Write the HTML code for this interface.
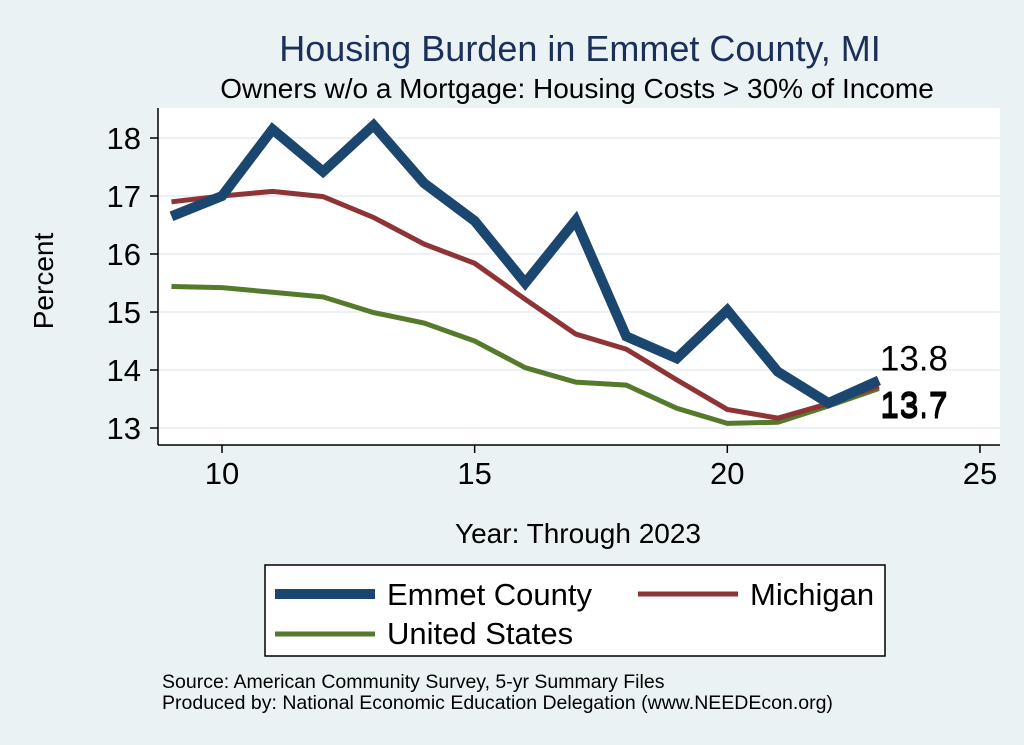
<!DOCTYPE html>
<html><head><meta charset="utf-8"><style>
body{margin:0;background:#eaf2f3;}
svg{display:block;font-family:"Liberation Sans",sans-serif;}
</style></head><body>
<svg id="c" width="1024" height="745">
<rect x="0" y="0" width="1024" height="745" fill="#eaf2f3"/>
<rect x="158" y="108" width="842" height="337" fill="#fff"/>
<text x="580" y="61" text-anchor="middle" font-size="36" fill="#1a2f5a">Housing Burden in Emmet County, MI</text>
<text x="577" y="98" text-anchor="middle" font-size="28" fill="#000">Owners w/o a Mortgage: Housing Costs &gt; 30% of Income</text>
<text x="53" y="281" text-anchor="middle" font-size="28" transform="rotate(-90 53 281)">Percent</text>
<text x="578" y="543" text-anchor="middle" font-size="28">Year: Through 2023</text>
<g id="grid"></g><g id="axes"></g><g id="series"></g>
<g>
<rect x="265" y="565" width="620" height="91" fill="#fff" stroke="#000" stroke-width="1.5"/>
<line x1="275" y1="594" x2="375" y2="594" stroke="#1a4670" stroke-width="10"/>
<text x="387" y="605" font-size="31">Emmet County</text>
<line x1="638" y1="594" x2="738" y2="594" stroke="#8e3436" stroke-width="5"/>
<text x="750" y="605" font-size="31">Michigan</text>
<line x1="275" y1="634" x2="375" y2="634" stroke="#557a2c" stroke-width="5"/>
<text x="387" y="644" font-size="31">United States</text>
</g>
<text x="162" y="688" font-size="19.5">Source: American Community Survey, 5-yr Summary Files</text>
<text x="162" y="709" font-size="19.5">Produced by: National Economic Education Delegation (www.NEEDEcon.org)</text>
</svg>
<script>
const years=[9,10,11,12,13,14,15,16,17,18,19,20,21,22,23];
const emmet=[16.65,17.0,18.15,17.42,18.22,17.22,16.57,15.5,16.58,14.58,14.2,15.03,13.97,13.43,13.82];
const michigan=[16.9,17.0,17.08,16.99,16.63,16.17,15.84,15.22,14.62,14.36,13.83,13.32,13.17,13.42,13.72];
const us=[15.44,15.42,15.34,15.26,14.99,14.81,14.5,14.04,13.79,13.74,13.34,13.08,13.1,13.38,13.68];
const xTicks=[10,15,20,25];
const yTicks=[13,14,15,16,17,18];
const endLabels=["13.8","13.7","13.7"];
const NS="http://www.w3.org/2000/svg";
const X=v=>222+(v-10)*50.53;
const Y=v=>428-(v-13)*58;
function mk(t,a,p){const e=document.createElementNS(NS,t);for(const k in a)e.setAttribute(k,a[k]);p.appendChild(e);return e;}
const grid=document.getElementById('grid'),axes=document.getElementById('axes'),ser=document.getElementById('series');
yTicks.forEach(v=>{
 const g=mk('line',{x1:158,x2:1000,y1:Y(v),y2:Y(v),stroke:'#e6eeef','stroke-width':1.5},grid);
 
 
 const t=mk('line',{x1:150,x2:158,y1:Y(v),y2:Y(v),stroke:'#000','stroke-width':1.5},axes);
 
 
 const l=mk('text',{x:141,y:Y(v)+11,'text-anchor':'end','font-size':31},axes);
 l.textContent=v;
 
 
});
xTicks.forEach(v=>{
 const t=mk('line',{x1:X(v),x2:X(v),y1:445,y2:453,stroke:'#000','stroke-width':1.5},axes);
 
 
 const l=mk('text',{x:X(v),y:484,'text-anchor':'middle','font-size':31},axes);
 l.textContent=v;
 
 
});
const ya=mk('line',{x1:158,x2:158,y1:108,y2:445,stroke:'#000','stroke-width':1.5},axes);


const xa=mk('line',{x1:158,x2:1000,y1:445,y2:445,stroke:'#000','stroke-width':1.5},axes);


function line(d,c,w,name){
 const p=mk('polyline',{points:years.map((y,i)=>X(y)+','+Y(d[i])).join(' '),fill:'none',stroke:c,'stroke-width':w,'stroke-linejoin':'miter'},ser);
 
 
}
line(us,'#557a2c',5,'us-line');
line(michigan,'#8e3436',5,'michigan-line');
line(emmet,'#1a4670',10,'emmet-line');
const last=years.length-1;
const lbl=[[emmet,-10],[michigan,30],[us,30]];
lbl.forEach((s,i)=>{
 const t=mk('text',{x:X(years[last])+1,y:Y(s[0][last])+s[1],'font-size':35},ser);
 t.textContent=endLabels[i];
 
 
});
</script>
</body></html>
